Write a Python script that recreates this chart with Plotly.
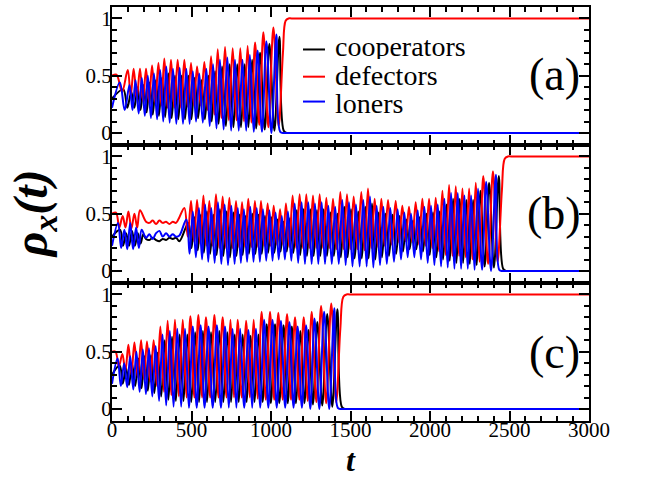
import plotly.graph_objects as go
from plotly.subplots import make_subplots

# ---------------------------------------------------------------------------
# Densities of cooperators (C), defectors (D) and loners (L) versus time t.
# Each oscillating stretch is stored as cycle times (defector peak times),
# peak heights and the trough depths between consecutive peaks.
# Loner and cooperator peaks trail the defector peak by a fraction of the cycle.
# ---------------------------------------------------------------------------
LAG_D, LAG_L, LAG_C = 0.0, 0.3, 0.6

# ----- panel (a) -----
A_T = [28, 99, 136, 176, 214, 252, 292, 329, 371, 413, 455, 497, 535, 581,
       623, 665, 711, 759, 807, 853, 900, 952, 1015]
A_D_PK = [0.51, 0.55, 0.56, 0.56, 0.56, 0.59, 0.61, 0.65, 0.64, 0.64, 0.64, 0.61,
          0.58, 0.62, 0.67, 0.73, 0.75, 0.74, 0.74, 0.76, 0.79, 0.88, 0.92]
A_D_TR = [0.36, 0.32, 0.30, 0.28, 0.27, 0.26, 0.24, 0.22, 0.22, 0.22, 0.23, 0.24,
          0.24, 0.20, 0.16, 0.13, 0.11, 0.11, 0.10, 0.09, 0.07, 0.05]
A_L_PK = [0.44, 0.42, 0.46, 0.48, 0.50, 0.52, 0.55, 0.58, 0.56, 0.57, 0.56, 0.54,
          0.52, 0.56, 0.60, 0.64, 0.66, 0.64, 0.64, 0.68, 0.72, 0.80, 0.86]
A_L_TR = [0.20, 0.20, 0.17, 0.15, 0.13, 0.12, 0.10, 0.09, 0.08, 0.08, 0.08, 0.10,
          0.09, 0.06, 0.04, 0.03, 0.02, 0.02, 0.02, 0.01, 0.01, 0.00]
A_C_PK = [0.38, 0.36, 0.40, 0.42, 0.44, 0.46, 0.48, 0.52, 0.50, 0.50, 0.50, 0.48,
          0.46, 0.50, 0.54, 0.58, 0.60, 0.60, 0.60, 0.64, 0.70, 0.78, 0.84]
A_C_TR = [0.22, 0.22, 0.20, 0.18, 0.16, 0.15, 0.14, 0.13, 0.12, 0.12, 0.12, 0.13,
          0.12, 0.10, 0.08, 0.06, 0.05, 0.05, 0.05, 0.04, 0.03, 0.02]
A_D_END_T, A_D_END = [1048, 1075, 1092, 1110, 1130, 3000], [0.06, 0.70, 0.98, 1.0, 1.0, 1.0]
A_L_END_T, A_L_END = [1058, 1080, 1100, 3000], [0.01, 0.0, 0.0, 0.0]
A_C_END_T, A_C_END = [1080, 1100, 1120, 3000], [0.02, 0.0, 0.0, 0.0]

# ----- panel (b) -----
B1_T = [25, 67, 103, 141, 176]
B1_D_PK, B1_D_TR = [0.51, 0.48, 0.52, 0.50, 0.53], [0.38, 0.38, 0.37, 0.38]
B1_L_PK, B1_L_TR = [0.42, 0.36, 0.42, 0.38, 0.36], [0.20, 0.19, 0.19, 0.20]
B1_C_PK, B1_C_TR = [0.36, 0.33, 0.35, 0.33, 0.32], [0.22, 0.22, 0.22, 0.24]

B_Q_T = [214, 235, 256, 277, 298, 319, 340, 361, 382, 403, 424]
B_Q_D = [0.43, 0.42, 0.44, 0.41, 0.44, 0.42, 0.43, 0.41, 0.43, 0.42, 0.47]
B_Q_L = [0.29, 0.32, 0.28, 0.33, 0.35, 0.30, 0.33, 0.30, 0.32, 0.30, 0.31]
B_Q_C = [0.28, 0.27, 0.29, 0.27, 0.26, 0.28, 0.27, 0.29, 0.28, 0.29, 0.26]

B2_T = [455, 497, 535, 575, 612, 654, 696, 738, 780, 818, 857, 899, 937, 979,
        1017, 1057, 1094, 1136, 1180, 1222, 1264, 1306, 1348, 1390, 1436, 1478,
        1520, 1568, 1610, 1652, 1694, 1736, 1784, 1826, 1868, 1910, 1952, 1994,
        2036, 2078, 2120, 2162, 2204, 2246, 2288, 2335, 2396]
B2_D_PK = [0.55, 0.61, 0.62, 0.66, 0.61, 0.67, 0.65, 0.64, 0.61, 0.60,
           0.63, 0.61, 0.61, 0.59, 0.57, 0.54, 0.59, 0.66, 0.67, 0.67,
           0.66, 0.67, 0.64, 0.63, 0.69, 0.67, 0.65, 0.69, 0.72, 0.63,
           0.63, 0.62, 0.61, 0.57, 0.56, 0.60, 0.63, 0.63, 0.64, 0.70,
           0.75, 0.74, 0.72, 0.72, 0.77, 0.83, 0.87]
B2_D_TR = [0.30, 0.26, 0.24, 0.22, 0.22, 0.20, 0.20, 0.20, 0.21, 0.21,
           0.21, 0.21, 0.22, 0.22, 0.23, 0.23, 0.21, 0.20, 0.20, 0.20,
           0.20, 0.20, 0.20, 0.19, 0.19, 0.19, 0.19, 0.18, 0.20, 0.21,
           0.22, 0.23, 0.25, 0.26, 0.25, 0.23, 0.22, 0.20, 0.17, 0.14,
           0.13, 0.13, 0.12, 0.10, 0.08, 0.06]
B2_L_PK = [0.45, 0.52, 0.55, 0.58, 0.55, 0.60, 0.58, 0.57, 0.55, 0.54,
           0.56, 0.55, 0.54, 0.53, 0.51, 0.48, 0.52, 0.59, 0.60, 0.60,
           0.59, 0.60, 0.57, 0.56, 0.62, 0.60, 0.58, 0.62, 0.65, 0.57,
           0.56, 0.55, 0.54, 0.51, 0.50, 0.53, 0.56, 0.57, 0.58, 0.63,
           0.68, 0.68, 0.66, 0.66, 0.72, 0.78, 0.84]
B2_L_TR = [0.15, 0.12, 0.10, 0.08, 0.07, 0.06, 0.05, 0.06, 0.07, 0.08,
           0.08, 0.08, 0.09, 0.09, 0.10, 0.10, 0.09, 0.07, 0.06, 0.06,
           0.06, 0.06, 0.06, 0.06, 0.05, 0.04, 0.04, 0.04, 0.03, 0.05,
           0.06, 0.08, 0.10, 0.12, 0.12, 0.10, 0.07, 0.05, 0.04, 0.03,
           0.02, 0.02, 0.02, 0.01, 0.01, 0.00]
B2_C_PK = [0.42, 0.47, 0.49, 0.52, 0.49, 0.54, 0.52, 0.51, 0.49, 0.48,
           0.50, 0.49, 0.48, 0.47, 0.45, 0.43, 0.46, 0.53, 0.54, 0.54,
           0.53, 0.54, 0.51, 0.50, 0.56, 0.54, 0.52, 0.56, 0.59, 0.51,
           0.50, 0.49, 0.48, 0.45, 0.44, 0.47, 0.50, 0.51, 0.52, 0.58,
           0.63, 0.63, 0.62, 0.62, 0.70, 0.77, 0.83]
B2_C_TR = [0.20, 0.18, 0.16, 0.15, 0.14, 0.13, 0.12, 0.13, 0.14, 0.15,
           0.15, 0.15, 0.16, 0.16, 0.17, 0.17, 0.16, 0.14, 0.13, 0.13,
           0.13, 0.13, 0.13, 0.12, 0.12, 0.11, 0.11, 0.11, 0.10, 0.12,
           0.13, 0.15, 0.17, 0.19, 0.19, 0.17, 0.14, 0.12, 0.10, 0.09,
           0.07, 0.07, 0.06, 0.05, 0.04, 0.03]
B_D_END_T, B_D_END = [2425, 2452, 2470, 2490, 2510, 3000], [0.08, 0.70, 0.98, 1.0, 1.0, 1.0]
B_L_END_T, B_L_END = [2436, 2455, 2475, 3000], [0.01, 0.0, 0.0, 0.0]
B_C_END_T, B_C_END = [2460, 2480, 2500, 3000], [0.02, 0.0, 0.0, 0.0]

# ----- panel (c) -----
C_T = [22, 65, 103, 141, 183, 220, 262, 304, 350, 396, 445, 493, 543, 591, 644,
       696, 745, 790, 843, 891, 941, 994, 1046, 1101, 1151, 1206, 1256, 1315, 1379]
C_D_PK = [0.50, 0.48, 0.56, 0.58, 0.60, 0.59, 0.60, 0.72, 0.77, 0.78,
          0.78, 0.81, 0.82, 0.80, 0.82, 0.80, 0.78, 0.78, 0.77, 0.78,
          0.85, 0.85, 0.84, 0.83, 0.80, 0.80, 0.85, 0.90, 0.92]
C_D_TR = [0.37, 0.33, 0.30, 0.28, 0.26, 0.24, 0.20, 0.15, 0.12, 0.11,
          0.10, 0.10, 0.10, 0.10, 0.10, 0.10, 0.10, 0.10, 0.10, 0.09,
          0.08, 0.08, 0.08, 0.08, 0.08, 0.07, 0.06, 0.05]
C_L_PK = [0.44, 0.40, 0.46, 0.50, 0.52, 0.53, 0.55, 0.65, 0.68, 0.70,
          0.70, 0.72, 0.73, 0.72, 0.73, 0.72, 0.70, 0.70, 0.69, 0.70,
          0.78, 0.78, 0.77, 0.76, 0.72, 0.73, 0.79, 0.85, 0.88]
C_L_TR = [0.20, 0.19, 0.17, 0.15, 0.13, 0.11, 0.07, 0.03, 0.02, 0.02,
          0.01, 0.01, 0.01, 0.01, 0.01, 0.01, 0.01, 0.01, 0.01, 0.01,
          0.01, 0.01, 0.01, 0.01, 0.01, 0.00, 0.00, 0.00]
C_C_PK = [0.38, 0.36, 0.40, 0.44, 0.46, 0.47, 0.49, 0.60, 0.63, 0.65,
          0.65, 0.67, 0.68, 0.67, 0.68, 0.67, 0.65, 0.65, 0.64, 0.65,
          0.74, 0.74, 0.73, 0.72, 0.68, 0.69, 0.76, 0.83, 0.87]
C_C_TR = [0.22, 0.21, 0.20, 0.18, 0.16, 0.14, 0.11, 0.08, 0.07, 0.07,
          0.06, 0.06, 0.06, 0.06, 0.06, 0.06, 0.06, 0.06, 0.06, 0.06,
          0.05, 0.05, 0.05, 0.05, 0.05, 0.04, 0.03, 0.02]
C_D_END_T, C_D_END = [1410, 1436, 1455, 1475, 1495, 3000], [0.06, 0.70, 0.98, 1.0, 1.0, 1.0]
C_L_END_T, C_L_END = [1420, 1440, 1460, 3000], [0.01, 0.0, 0.0, 0.0]
C_C_END_T, C_C_END = [1445, 1465, 1485, 3000], [0.02, 0.0, 0.0, 0.0]

# initial densities at t = 0
START_D, START_L, START_C = 0.50, 0.22, 0.30

X_TICKS = [0, 500, 1000, 1500, 2000, 2500, 3000]
Y_TICKS = [0, 0.5, 1]
Y_TICK_TEXT = ["0", "0.5", "1"]
NAMES = ["cooperators", "defectors", "loners"]
COLORS = ["#000000", "#ff0000", "#0000ff"]
PANEL_TAGS = ["(a)", "(b)", "(c)"]
SERIF = "Liberation Serif"


def cycles(times, lag, peaks, troughs):
    """Peak/trough knots of an oscillating stretch."""
    n = len(times)
    tp = []
    for i in range(n):
        period = times[i + 1] - times[i] if i < n - 1 else times[i] - times[i - 1]
        tp.append(times[i] + lag * period)
    xs, ys = [], []
    for i in range(n):
        xs.append(tp[i]); ys.append(peaks[i])
        if i < n - 1:
            xs.append(0.5 * (tp[i] + tp[i + 1])); ys.append(troughs[i])
    return xs, ys


def join(*parts):
    xs, ys = [], []
    for px, py in parts:
        xs += list(px); ys += list(py)
    return xs, ys


panels = [
    {  # (a)
        "C": join(([0], [START_C]), cycles(A_T, LAG_C, A_C_PK, A_C_TR), (A_C_END_T, A_C_END)),
        "D": join(([0], [START_D]), cycles(A_T, LAG_D, A_D_PK, A_D_TR), (A_D_END_T, A_D_END)),
        "L": join(([0], [START_L]), cycles(A_T, LAG_L, A_L_PK, A_L_TR), (A_L_END_T, A_L_END)),
    },
    {  # (b)
        "C": join(([0], [START_C]), cycles(B1_T, LAG_C, B1_C_PK, B1_C_TR), (B_Q_T, B_Q_C),
                  cycles(B2_T, LAG_C, B2_C_PK, B2_C_TR), (B_C_END_T, B_C_END)),
        "D": join(([0], [START_D]), cycles(B1_T, LAG_D, B1_D_PK, B1_D_TR), (B_Q_T, B_Q_D),
                  cycles(B2_T, LAG_D, B2_D_PK, B2_D_TR), (B_D_END_T, B_D_END)),
        "L": join(([0], [START_L]), cycles(B1_T, LAG_L, B1_L_PK, B1_L_TR), (B_Q_T, B_Q_L),
                  cycles(B2_T, LAG_L, B2_L_PK, B2_L_TR), (B_L_END_T, B_L_END)),
    },
    {  # (c)
        "C": join(([0], [START_C]), cycles(C_T, LAG_C, C_C_PK, C_C_TR), (C_C_END_T, C_C_END)),
        "D": join(([0], [START_D]), cycles(C_T, LAG_D, C_D_PK, C_D_TR), (C_D_END_T, C_D_END)),
        "L": join(([0], [START_L]), cycles(C_T, LAG_L, C_L_PK, C_L_TR), (C_L_END_T, C_L_END)),
    },
]

fig = make_subplots(rows=3, cols=1, shared_xaxes=True, vertical_spacing=0)

for r, panel in enumerate(panels, start=1):
    for key, name, color in zip(["C", "D", "L"], NAMES, COLORS):
        xs, ys = panel[key]
        fig.add_trace(
            go.Scatter(
                x=xs, y=ys, mode="lines", name=name,
                line=dict(color=color, width=2, shape="spline", smoothing=1.0),
                showlegend=False, hoverinfo="skip",
            ),
            row=r, col=1,
        )

axis_font = dict(family=SERIF, size=21, color="black")
for r in range(1, 4):
    fig.update_xaxes(
        row=r, col=1, range=[0, 3000], tickvals=X_TICKS,
        showline=True, linecolor="black", linewidth=2, mirror="allticks",
        ticks="inside", ticklen=10, tickwidth=1.5, tickcolor="black",
        minor=dict(ticks="inside", dtick=100, tick0=0, ticklen=5,
                   tickwidth=1.5, tickcolor="black"),
        showgrid=False, zeroline=False, tickfont=axis_font,
        showticklabels=(r == 3), ticklabelstandoff=-11,
    )
    fig.update_yaxes(
        row=r, col=1, range=[-0.105, 1.1], tickvals=Y_TICKS, ticktext=Y_TICK_TEXT,
        showline=True, linecolor="black", linewidth=2, mirror="allticks",
        ticks="inside", ticklen=10, tickwidth=1.5, tickcolor="black",
        minor=dict(ticks="inside", dtick=0.1, tick0=0, ticklen=5,
                   tickwidth=1.5, tickcolor="black"),
        showgrid=False, zeroline=False, tickfont=axis_font,
        ticklabelstandoff=-6,
    )

annotations = []
shapes = []
for tag, ypos in zip(PANEL_TAGS, [0.837, 0.502, 0.166]):
    annotations.append(dict(
        text=tag, x=0.927, y=ypos, xref="paper", yref="paper",
        showarrow=False, font=dict(family=SERIF, size=46, color="black"),
        xanchor="center", yanchor="middle",
    ))

# key for the three species, placed inside panel (a)
KEY_LINE_Y = [0.8974, 0.8317, 0.7716]
KEY_TEXT_Y = [0.9063, 0.8353, 0.7692]
for name, color, ly, ty in zip(NAMES, COLORS, KEY_LINE_Y, KEY_TEXT_Y):
    shapes.append(dict(type="line", xref="paper", yref="paper",
                       x0=0.4004, x1=0.4465, y0=ly, y1=ly,
                       line=dict(color=color, width=2)))
    annotations.append(dict(
        text=name, x=0.4633, y=ty, xref="paper", yref="paper",
        showarrow=False, font=dict(family=SERIF, size=28, color="black"),
        xanchor="left", yanchor="middle", height=26,
    ))

annotations.append(dict(
    text="<b><i>ρ<sub>x</sub>(t)</i></b>", x=-0.163, y=0.5, xref="paper", yref="paper",
    showarrow=False, textangle=-90, font=dict(family=SERIF, size=48, color="black"),
    xanchor="center", yanchor="middle",
))
annotations.append(dict(
    text="<b><i>t</i></b>", x=0.5, y=-0.094, xref="paper", yref="paper",
    showarrow=False, font=dict(family=SERIF, size=32, color="black"),
    xanchor="center", yanchor="middle",
))

fig.update_layout(
    width=652, height=479,
    margin=dict(l=112, r=63, t=5, b=58),
    paper_bgcolor="white", plot_bgcolor="white",
    annotations=annotations, shapes=shapes,
    showlegend=False,
)

fig.write_html("out.html")
